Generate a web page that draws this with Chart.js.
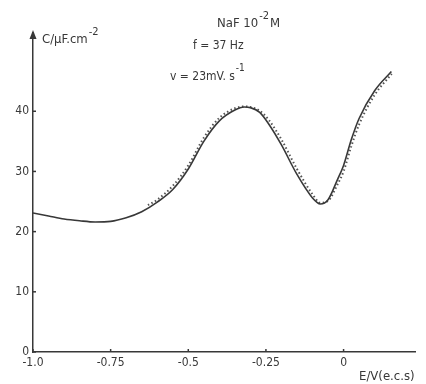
<!DOCTYPE html>
<html>
<head>
<meta charset="utf-8">
<script src="https://cdn.jsdelivr.net/npm/chart.js@4"></script>
<style>
  body { margin: 0; background: #fff; }
  canvas { display: block; }
</style>
</head>
<body>
<canvas id="chart" width="426" height="384"></canvas>
<script>
// potential E (V vs e.c.s) and capacitance C (µF/cm2)
const solidE = [-1.0, -0.95, -0.9, -0.85, -0.8, -0.75, -0.7, -0.65, -0.6, -0.55, -0.5, -0.45, -0.4, -0.35, -0.32, -0.3, -0.27, -0.24, -0.2, -0.15, -0.1, -0.075, -0.05, -0.02, 0, 0.025, 0.05, 0.1, 0.154];
const solidC = [23.1, 22.6, 22.1, 21.8, 21.6, 21.7, 22.3, 23.3, 24.9, 27.0, 30.4, 35.0, 38.4, 40.2, 40.7, 40.6, 39.8, 37.8, 34.4, 29.5, 25.6, 24.6, 25.3, 28.6, 31.0, 35.3, 38.8, 43.4, 46.6];
const dottedE = [-0.63, -0.6, -0.55, -0.5, -0.45, -0.4, -0.35, -0.32, -0.3, -0.27, -0.24, -0.2, -0.15, -0.1, -0.075, -0.05, -0.02, 0, 0.025, 0.05, 0.1, 0.155];
const dottedC = [24.4, 25.3, 27.6, 31.0, 35.6, 38.9, 40.5, 40.8, 40.7, 40.1, 38.5, 35.3, 30.4, 26.2, 24.8, 25.1, 27.8, 30.0, 34.2, 37.8, 42.7, 46.2];

const xTickValues = [-1, -0.75, -0.5, -0.25, 0];
const xTickLabels = ['-1.0', '-0.75', '-0.5', '-0.25', '0'];
const yTickValues = [0, 10, 20, 30, 40];

const ink = '#383838';
const font = "'DejaVu Sans Condensed', 'DejaVu Sans', sans-serif";

const toPoints = (xs, ys) => xs.map((x, i) => ({ x, y: ys[i] }));

// small inside tick marks, axis arrow and the annotations
const decorations = {
    id: 'decorations',
    afterDraw(chart) {
        const { ctx, chartArea, scales } = chart;
        const x0 = chartArea.left;
        const y0 = chartArea.bottom;
        ctx.save();
        ctx.strokeStyle = ink;
        ctx.fillStyle = ink;
        ctx.lineWidth = 1.5;

        xTickValues.forEach(v => {
            const px = scales.x.getPixelForValue(v);
            ctx.beginPath();
            ctx.moveTo(px, y0);
            ctx.lineTo(px, y0 - 3);
            ctx.stroke();
        });
        yTickValues.forEach(v => {
            const py = scales.y.getPixelForValue(v);
            ctx.beginPath();
            ctx.moveTo(x0, py);
            ctx.lineTo(x0 + 3, py);
            ctx.stroke();
        });

        // arrow head on the y axis
        ctx.beginPath();
        ctx.moveTo(x0, chartArea.top - 3);
        ctx.lineTo(x0 - 3.5, chartArea.top + 6);
        ctx.lineTo(x0 + 3.5, chartArea.top + 6);
        ctx.closePath();
        ctx.fill();

        const text = (s, x, y, size) => {
            ctx.font = size + 'px ' + font;
            ctx.fillText(s, x, y);
            return x + ctx.measureText(s).width;
        };

        ctx.textBaseline = 'alphabetic';
        let x = text('C/µF.cm', 42, 43, 13);
        text('-2', x + 1, 35, 11);

        x = text('NaF 10', 217, 27, 13);
        x = text('-2', x + 1, 19, 11);
        text('M', x + 1, 27, 13);

        text('f = 37 Hz', 193, 49, 12);

        x = text('v = 23mV. s', 170, 80, 12);
        text('-1', x + 1, 71, 10);

        text('E/V(e.c.s)', 359, 380, 13);
        ctx.restore();
    }
};

new Chart(document.getElementById('chart'), {
    type: 'line',
    data: {
        datasets: [
            {
                data: toPoints(solidE, solidC),
                borderColor: ink,
                borderWidth: 1.6,
                cubicInterpolationMode: 'monotone',
                pointRadius: 0
            },
            {
                data: toPoints(dottedE, dottedC),
                borderColor: '#555',
                borderWidth: 2,
                borderDash: [1.5, 2.5],
                cubicInterpolationMode: 'monotone',
                pointRadius: 0
            }
        ]
    },
    options: {
        responsive: false,
        animation: false,
        layout: { padding: { left: 0, top: 33, right: 11, bottom: 0 } },
        plugins: {
            legend: { display: false },
            tooltip: { enabled: false }
        },
        scales: {
            x: {
                type: 'linear',
                min: -1,
                max: 0.23,
                afterBuildTicks: s => { s.ticks = xTickValues.map(v => ({ value: v })); },
                afterFit: s => { s.height = 32; },
                ticks: {
                    callback: v => xTickLabels[xTickValues.indexOf(v)],
                    color: ink,
                    font: { family: font, size: 12 },
                    padding: 4,
                    maxRotation: 0
                },
                grid: { drawOnChartArea: false, drawTicks: false },
                border: { color: ink, width: 1.5 }
            },
            y: {
                min: 0,
                max: 53,
                afterBuildTicks: s => { s.ticks = yTickValues.map(v => ({ value: v })); },
                afterFit: s => { s.width = 33; },
                ticks: {
                    color: ink,
                    font: { family: font, size: 12 },
                    padding: 4
                },
                grid: { drawOnChartArea: false, drawTicks: false },
                border: { color: ink, width: 1.5 }
            }
        }
    },
    plugins: [decorations]
});
</script>
</body>
</html>
